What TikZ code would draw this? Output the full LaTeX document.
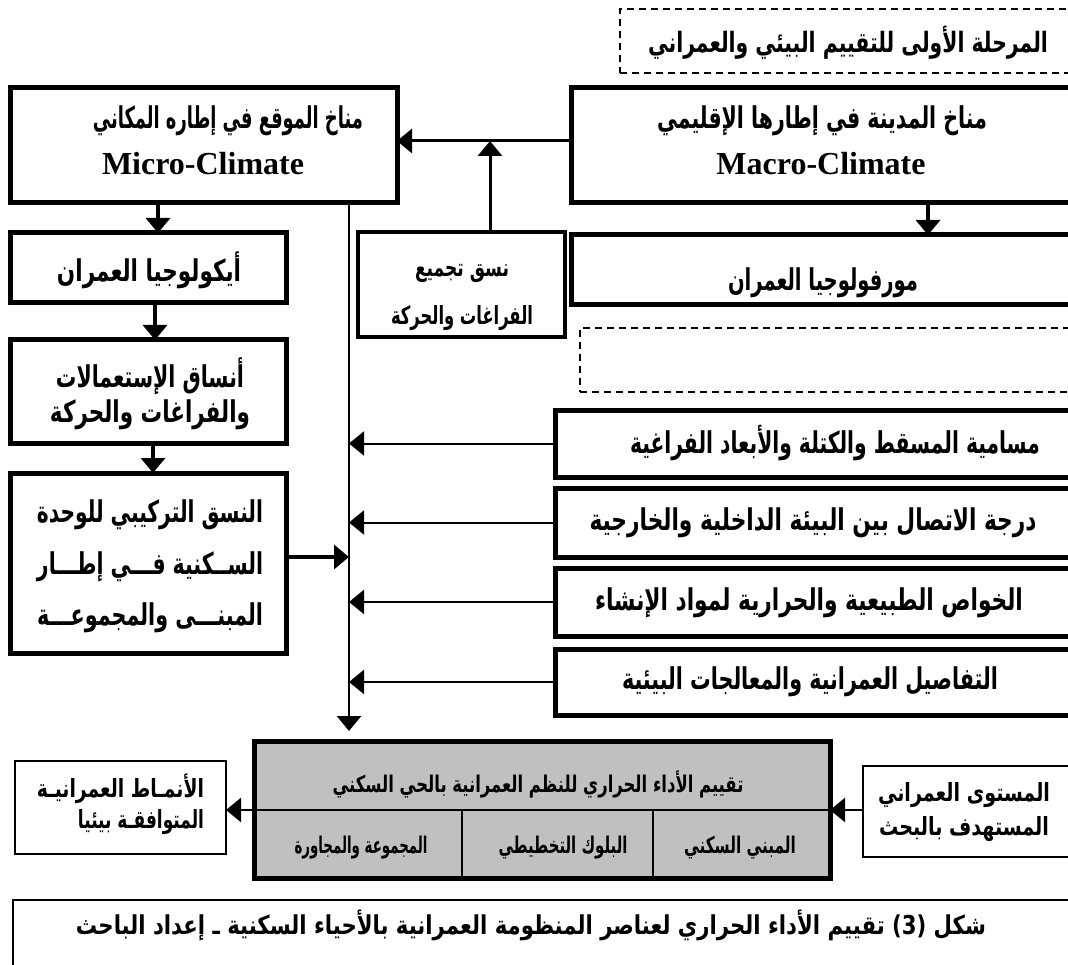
\documentclass[tikz,border=0pt]{standalone}
\usepackage{fontspec}
\usetikzlibrary{arrows.meta}
\TeXXeTstate=1
\newfontfamily\arfont[Script=Arabic]{DejaVu Sans}
\newfontfamily\enfont{Liberation Serif}
\newcommand{\fitw}[2]{\resizebox{#1pt}{\height}{#2}}
\definecolor{boxgray}{RGB}{192,192,192}
\begin{document}
\begin{tikzpicture}[x=1pt,y=-1pt,
  every node/.style={inner sep=0pt, outer sep=0pt},
  heavy/.style={draw, line width=5pt, rectangle},
  medium/.style={draw, line width=4pt, rectangle},
  light/.style={draw, line width=2pt, rectangle},
  dashbox/.style={draw, line width=1.3pt, dash pattern=on 7pt off 5pt, rectangle},
  ar/.style={font=\arfont\bfseries\fontsize{#1}{#1}\selectfont},
  en/.style={font=\enfont\bfseries\fontsize{#1}{#1}\selectfont},
  tip/.style={-{Triangle[length=15pt,width=24pt]}},
  arr/.style={tip, line width=3.5pt},
  thinarr/.style={tip, line width=2pt},
  trunk/.style={tip, line width=2.5pt},
  divider/.style={line width=2pt}]
\clip (0,0) rectangle (1068,965);
\fill[white] (0,0) rectangle (1068,965);
% boxes
\node[dashbox, minimum width=455, minimum height=64] (d1) at (847.5,41) {};
\node[heavy, minimum width=387, minimum height=115] (micro) at (203.5,145.5) {};
\node[heavy, minimum width=504, minimum height=115] (macro) at (823,145.5) {};
\node[medium, minimum width=207, minimum height=105] (nasq) at (461.5,284.5) {};
\node[heavy, minimum width=276, minimum height=70] (eco) at (148,268) {};
\node[heavy, minimum width=504, minimum height=70] (morph) at (823,270) {};
\node[dashbox, minimum width=495, minimum height=64] (d2) at (827.5,360) {};
\node[heavy, minimum width=276, minimum height=103] (ansaq) at (148,391.5) {};
\node[heavy, minimum width=276, minimum height=180] (tarkibi) at (148,563) {};
\node[heavy, minimum width=520, minimum height=67] (r1) at (815,443.5) {};
\node[heavy, minimum width=520, minimum height=69] (r2) at (815,522.5) {};
\node[heavy, minimum width=520, minimum height=68] (r3) at (815,602) {};
\node[heavy, minimum width=520, minimum height=66] (r4) at (815,682) {};
\node[heavy, fill=boxgray, minimum width=576, minimum height=137] (gray) at (542,810) {};
\node[light, minimum width=211, minimum height=93] (leftb) at (120.5,807.5) {};
\node[light, minimum width=212, minimum height=91] (rightb) at (969,811.5) {};
\node[light, minimum width=1062, minimum height=75] (cap) at (544,937.5) {};
% gray box dividers
\coordinate (dv) at (0,810);
\coordinate (c1) at (462,0);
\coordinate (c2) at (653,0);
\draw[divider] (gray.west |- dv) -- (gray.east |- dv);
\draw[divider] (c1 |- dv) -- (c1 |- gray.south);
\draw[divider] (c2 |- dv) -- (c2 |- gray.south);
% texts
\node[ar={28}] (t-d1) at (848,43) {\fitw{400}{\beginR المرحلة الأولى للتقييم البيئي والعمراني\endR}};
\node[ar={30}] (t-mi1) at (228,121) {\fitw{270}{\beginR مناخ الموقع في إطاره المكاني\endR}};
\node[en={32}] (t-mi2) at (203,164) {Micro-Climate};
\node[ar={30}] (t-ma1) at (822,121) {\fitw{330}{\beginR مناخ المدينة في إطارها الإقليمي\endR}};
\node[en={32}] (t-ma2) at (821,164) {Macro-Climate};
\node[ar={25}] (t-n1) at (462,273) {\fitw{94}{\beginR نسق تجميع\endR}};
\node[ar={25}] (t-n2) at (462,318) {\fitw{142}{\beginR الفراغات والحركة\endR}};
\node[ar={30}] (t-eco) at (149,270) {\fitw{184}{\beginR أيكولوجيا العمران\endR}};
\node[ar={30}] (t-mor) at (823,283) {\fitw{190}{\beginR مورفولوجيا العمران\endR}};
\node[ar={30}] (t-an1) at (150,376) {\fitw{188}{\beginR أنساق الإستعمالات\endR}};
\node[ar={30}] (t-an2) at (150,415) {\fitw{200}{\beginR والفراغات والحركة\endR}};
\node[ar={30}] (t-tk1) at (150,515) {\fitw{226}{\beginR النسق التركيبي للوحدة\endR}};
\node[ar={30}] (t-tk2) at (150,567) {\fitw{226}{\beginR الســكنية فـــي إطـــار\endR}};
\node[ar={30}] (t-tk3) at (150,618) {\fitw{226}{\beginR المبنـــى والمجموعـــة\endR}};
\node[ar={30}] (t-r1) at (835,443) {\fitw{410}{\beginR مسامية المسقط والكتلة والأبعاد الفراغية\endR}};
\node[ar={30}] (t-r2) at (813,523) {\fitw{447}{\beginR درجة الاتصال بين البيئة الداخلية والخارجية\endR}};
\node[ar={30}] (t-r3) at (809,603) {\fitw{428}{\beginR الخواص الطبيعية والحرارية لمواد الإنشاء\endR}};
\node[ar={30}] (t-r4) at (810,682) {\fitw{376}{\beginR التفاصيل العمرانية والمعالجات البيئية\endR}};
\node[ar={23}] (t-g) at (538,784) {\fitw{411}{\beginR تقييم الأداء الحراري للنظم العمرانية بالحي السكني\endR}};
\node[ar={23}] (t-g1) at (361,848) {\fitw{133}{\beginR المجموعة والمجاورة\endR}};
\node[ar={23}] (t-g2) at (563,848) {\fitw{129}{\beginR البلوك التخطيطي\endR}};
\node[ar={23}] (t-g3) at (740,848) {\fitw{112}{\beginR المبني السكني\endR}};
\node[ar={25}, anchor=east] (t-l1) at (204,789) {\fitw{167}{\beginR الأنمـاط العمرانيـة\endR}};
\node[ar={25}, anchor=east] (t-l2) at (204,822) {\fitw{126}{\beginR المتوافقـة بيئيا\endR}};
\node[ar={25}] (t-rb1) at (964,795) {\fitw{172}{\beginR المستوى العمراني\endR}};
\node[ar={25}] (t-rb2) at (964,829) {\fitw{170}{\beginR المستهدف بالبحث\endR}};
\node[ar={26}] (t-cap) at (531,925) {\fitw{910}{\beginR شكل \beginL(3)\endL{} تقييم الأداء الحراري لعناصر المنظومة العمرانية بالأحياء السكنية ـ إعداد الباحث\endR}};
% connectors
\coordinate (y140) at (0,141);
\coordinate (j) at (490,141);
\coordinate (tx) at (349,0);
\coordinate (trunkEnd) at (349,731);
\coordinate (xa) at (158,0);
\coordinate (xb) at (155,0);
\coordinate (xc) at (153,0);
\coordinate (xd) at (928,0);
\coordinate (ym) at (0,810);
\coordinate (yt) at (0,557);
\draw[arr, line width=3pt] (macro.west |- y140) -- (micro.east |- y140);
\draw[arr, line width=3pt] (nasq.north -| j) -- (j);
\draw[arr] (micro.south -| xa) -- (eco.north -| xa);
\draw[arr] (eco.south -| xb) -- (ansaq.north -| xb);
\draw[arr] (ansaq.south -| xc) -- (tarkibi.north -| xc);
\draw[arr] (macro.south -| xd) -- (morph.north -| xd);
\draw[trunk] (micro.south -| tx) -- (trunkEnd);
\draw[thinarr] (r1.west) -- (r1.west -| tx);
\draw[thinarr] (r2.west) -- (r2.west -| tx);
\draw[thinarr] (r3.west) -- (r3.west -| tx);
\draw[thinarr] (r4.west) -- (r4.west -| tx);
\draw[arr] (tarkibi.east |- yt) -- (tx |- yt);
\draw[thinarr, line width=2.5pt] (gray.west |- ym) -- (leftb.east |- ym);
\draw[thinarr, line width=2.5pt] (rightb.west |- ym) -- (gray.east |- ym);
\end{tikzpicture}
\end{document}
